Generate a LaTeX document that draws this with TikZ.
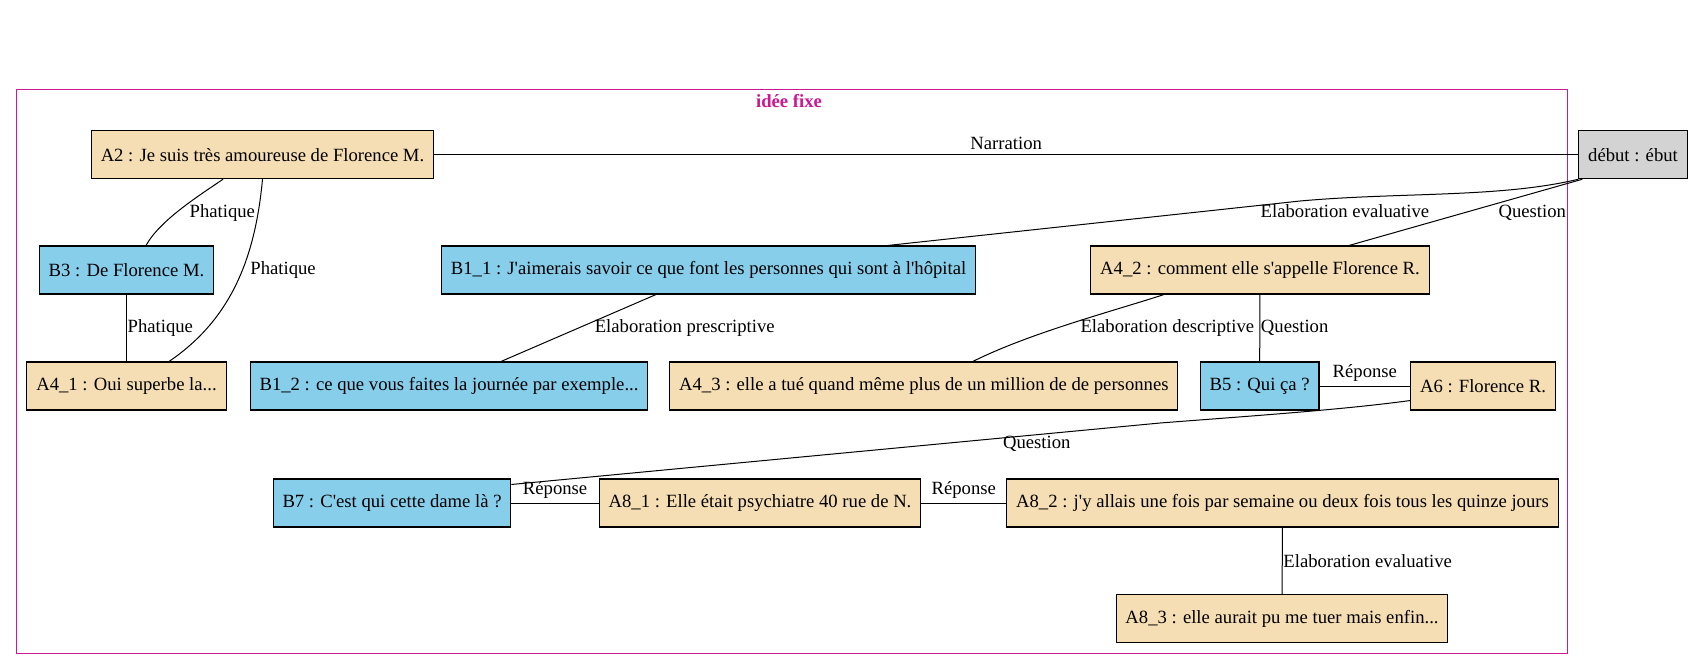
\documentclass[tikz,border=0pt]{standalone}
\usepackage{fontspec}
\setmainfont{Liberation Serif}
\usetikzlibrary{calc}

\definecolor{wheat}{RGB}{245,222,179}
\definecolor{skyblue}{RGB}{135,206,235}
\definecolor{lightgrey}{RGB}{211,211,211}
\definecolor{clustpink}{RGB}{204,25,145}

\tikzset{
    tour/.style={draw, rectangle, line width=0.8pt, minimum height=36pt, inner xsep=7pt, font=\fontsize{14}{16}\selectfont},
    tourA/.style={tour, fill=wheat},
    tourB/.style={tour, fill=skyblue},
    lien/.style={line width=0.75pt},
    rel/.style={font=\fontsize{14}{16}\selectfont},
}

\begin{document}
\begin{tikzpicture}[x=0.75pt,y=-0.75pt]
        \useasboundingbox (0,0) rectangle (1694,669);
        % --- cluster: idee fixe ---
        \draw[clustpink, line width=0.75pt] (16,89) rectangle (1567,653);
        \node[text=clustpink, font=\bfseries\fontsize{14}{16}\selectfont] (titre) at (789,101) {idée fixe};
        % --- tours de parole ---
        \node[tour, fill=lightgrey] (debut) at (1633,154.7) {début : ébut};
        \node[tourA] (a2)  at (262.5,154.7) {A2 : Je suis très amoureuse de Florence M.};
        \node[tourB] (b3)  at (126.5,270) {B3 : De Florence M.};
        \node[tourB] (b11) at (708.6,270) {B1\_1 : J\textquotesingle aimerais savoir ce que font les personnes qui sont à l\textquotesingle hôpital};
        \node[tourA] (a42) at (1260,270) {A4\_2 : comment elle s\textquotesingle appelle Florence R.};
        \node[tourA] (a41) at (126.5,386) {A4\_1 : Oui superbe la...};
        \node[tourB] (b12) at (449,386) {B1\_2 : ce que vous faites la journée par exemple...};
        \node[tourA] (a43) at (923.8,386) {A4\_3 : elle a tué quand même plus de un million de de personnes};
        \node[tourB] (b5)  at (1259.6,386) {B5 : Qui ça ?};
        \node[tourA] (a6)  at (1483,386) {A6 : Florence R.};
        \node[tourB] (b7)  at (392,503) {B7 : C\textquotesingle est qui cette dame là ?};
        \node[tourA] (a81) at (760,503) {A8\_1 : Elle était psychiatre 40 rue de N.};
        \node[tourA] (a82) at (1282.5,503) {A8\_2 : j\textquotesingle y allais une fois par semaine ou deux fois tous les quinze jours};
        \node[tourA] (a83) at (1282,618.5) {A8\_3 : elle aurait pu me tuer mais enfin...};
        % --- relations ---
        \draw[lien] (a2) -- (debut) node[rel, midway, above] {Narration};
        \draw[lien] ($(a2.south)+(-39.5,0)$) .. controls (200,195) and (160,220) .. ($(b3.north)+(19.5,0)$)
            node[rel, pos=.5, anchor=west, inner sep=2pt, xshift=4pt, yshift=-3pt] {Phatique};
        \draw[lien] (a2.south) .. controls (255,260) and (230,320) .. ($(a41.north)+(42.5,0)$)
            node[rel, pos=.4, anchor=west, inner sep=2pt, xshift=2.5pt, yshift=-3pt] {Phatique};
        \draw[lien] (b3) -- (a41) node[rel, midway, anchor=west, inner sep=0.5pt] {Phatique};
        \draw[lien] (debut.south west) .. controls (1500,198) and (1400,192) .. (1300,201)
            node[rel, pos=.85, below, yshift=-1.5pt] {Elaboration evaluative}
            -- ($(b11.north)+(179,0)$);
        \draw[lien] ($(debut.south west)+(4,0)$) -- ($(a42.north)+(89,0)$)
            node[rel, pos=.5, anchor=west, xshift=21pt] {Question};
        \draw[lien] ($(b11.south)+(-52.6,0)$) -- ($(b12.north)+(52,0)$)
            node[rel, pos=.5, anchor=west, xshift=8.5pt] {Elaboration prescriptive};
        \draw[lien] ($(a42.south)+(-96,0)$) .. controls (1110,312) and (1030,333) .. ($(a43.north)+(49,0)$)
            node[rel, pos=.5, anchor=west, xshift=4.5pt, yshift=-3pt] {Elaboration descriptive};
        \draw[lien] (a42) -- (b5) node[rel, midway, anchor=west, inner sep=0.5pt] {Question};
        \draw[lien] (b5) -- (a6) node[rel, midway, above] {Réponse};
        \draw[lien] ($(a6.south west)+(0,-10)$) .. controls (1340,410) and (1250,416) .. (1160,423)
            -- ($(b7.north east)+(0,6)$)
            node[rel, pos=.19, below, inner sep=1pt] {Question};
        \draw[lien] (b7) -- (a81) node[rel, midway, above] {Réponse};
        \draw[lien] (a81) -- (a82) node[rel, midway, above] {Réponse};
        \draw[lien] (a82) -- (a83) node[rel, midway, anchor=west, inner sep=0.5pt] {Elaboration evaluative};
\end{tikzpicture}
\end{document}
